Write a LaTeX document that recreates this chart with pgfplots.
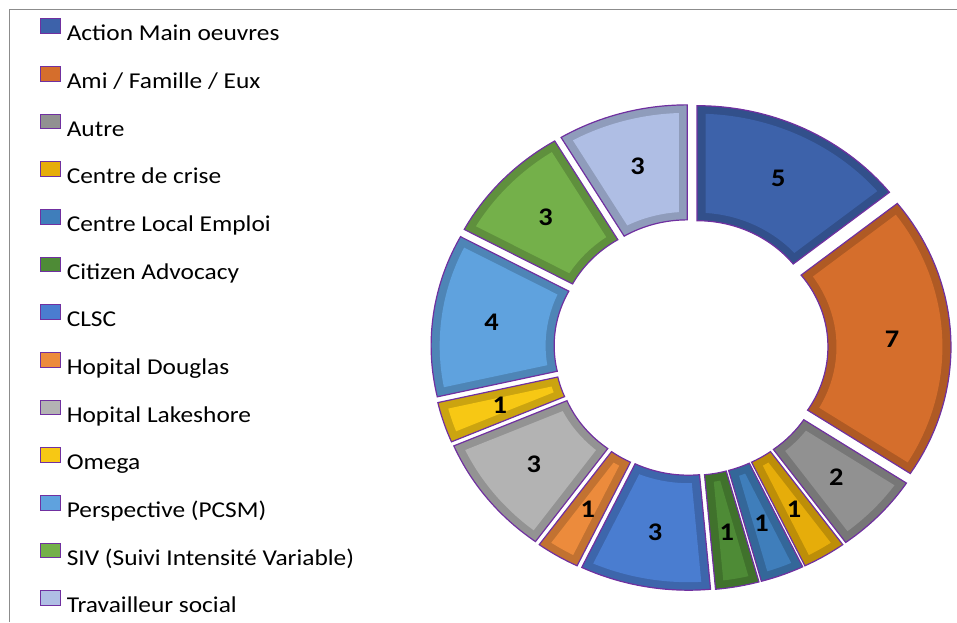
\documentclass[border=0pt]{standalone}
\usepackage{fontspec}
\usepackage{pgfplots}
\pgfplotsset{compat=1.18}
\setmainfont{Carlito}
\newfontfamily\calfont[FakeStretch=1.12]{Carlito}

\definecolor{outl}{HTML}{7030A0}
\definecolor{frame}{HTML}{8C8C8C}
\definecolor{cAction}{HTML}{3D62AA}
\definecolor{cAmi}{HTML}{D56E2C}
\definecolor{cAutre}{HTML}{919191}
\definecolor{cCrise}{HTML}{E6AD0A}
\definecolor{cCLE}{HTML}{3F7EBB}
\definecolor{cCitizen}{HTML}{4E8B36}
\definecolor{cCLSC}{HTML}{4A7DD0}
\definecolor{cDouglas}{HTML}{EC8B3C}
\definecolor{cLakeshore}{HTML}{B3B3B3}
\definecolor{cOmega}{HTML}{F7C814}
\definecolor{cPersp}{HTML}{5FA2DE}
\definecolor{cSIV}{HTML}{74B04A}
\definecolor{cTrav}{HTML}{AFBEE4}

% geometry in pixel units of the reference
\def\cx{691}\def\cy{274.6}\def\sx{1.07}
\def\Ro{230}\def\Ri{115}\def\Rm{175}\def\dd{13}\def\bw{8}
\def\N{36}
\def\total{35}
\gdef\cum{0}

\newcommand{\arcpts}[4]{% radius, start angle, end angle, mid angle
  \foreach \k in {0,...,\N} {%
    \pgfmathsetmacro\ang{(#2)+((#3)-(#2))*\k/\N}%
    \pgfmathsetmacro\px{\cx+\sx*((#1)*cos(\ang)+\dd*cos(#4))}%
    \pgfmathsetmacro\py{\cy+(#1)*sin(\ang)+\dd*sin(#4)}%
    \xdef\pts{\pts (\px,\py)}%
  }%
}

\newcommand{\sector}[3]{% value, colour, legend text
  \pgfmathsetmacro\sa{90-\cum*360/\total}%
  \pgfmathsetmacro\sb{90-(\cum+#1)*360/\total}%
  \pgfmathsetmacro\md{(\sa+\sb)/2}%
  \gdef\pts{}%
  \arcpts{\Ro}{\sa}{\sb}{\md}%
  \arcpts{\Ri}{\sb}{\sa}{\md}%
  \edef\doplot{\noexpand\addplot[forget plot, fill=#2!82!black, draw=outl, line width=0.9pt] coordinates {\pts} -- cycle;}%
  \doplot
  \pgfmathsetmacro\doo{\bw/(\Ro-\bw)*180/pi}%
  \pgfmathsetmacro\dii{\bw/(\Ri+\bw)*180/pi}%
  \gdef\pts{}%
  \arcpts{\Ro-\bw}{\sa-\doo}{\sb+\doo}{\md}%
  \arcpts{\Ri+\bw}{\sb+\dii}{\sa-\dii}{\md}%
  \edef\doplot{\noexpand\addplot[forget plot, fill=#2, draw=none] coordinates {\pts} -- cycle;}%
  \doplot
  \addlegendimage{legsq, fill=#2}%
  \addlegendentry{#3}%
  \pgfmathsetmacro\lx{\cx+\sx*(\Rm+\dd)*cos(\md)}%
  \pgfmathsetmacro\ly{\cy+(\Rm+\dd)*sin(\md)}%
  \edef\dolabel{\noexpand\node[font=\noexpand\calfont\noexpand\bfseries\noexpand\fontsize{19}{20}\noexpand\selectfont] at (axis cs:\lx,\ly) {#1};}%
  \dolabel
  \pgfmathsetmacro\newcum{\cum+#1}%
  \xdef\cum{\newcum}%
}

\pgfplotsset{legsq/.style={legend image code/.code={\draw[##1,draw=outl,line width=0.6pt] (0pt,0pt) rectangle (15pt,11pt);}}}

\begin{document}
\begin{tikzpicture}
\begin{axis}[
  at={(0,0)}, anchor=south west,
  scale only axis, width=717.75pt, height=466.5pt,
  xmin=0, xmax=957, ymin=0, ymax=622,
  hide axis, clip=false,
  legend style={at={(axis description cs:0.0418,0.9705)}, anchor=north west,
    draw=none, fill=none, inner sep=0pt, outer sep=0pt,
    font=\calfont\fontsize{17}{20}\selectfont,
    row sep=18.95pt, column sep=4.5pt,
    nodes={inner sep=0pt, text height=11pt, text depth=0pt}},
  legend cell align=left,
]
\draw[frame, line width=0.8pt] (axis cs:9.5,0) -- (axis cs:9.5,612.7) -- (axis cs:957,612.7);
\sector{5}{cAction}{Action Main oeuvres}
\sector{7}{cAmi}{Ami / Famille / Eux}
\sector{2}{cAutre}{Autre}
\sector{1}{cCrise}{Centre de crise}
\sector{1}{cCLE}{Centre Local Emploi}
\sector{1}{cCitizen}{Citizen Advocacy}
\sector{3}{cCLSC}{CLSC}
\sector{1}{cDouglas}{Hopital Douglas}
\sector{3}{cLakeshore}{Hopital Lakeshore}
\sector{1}{cOmega}{Omega}
\sector{4}{cPersp}{Perspective (PCSM)}
\sector{3}{cSIV}{SIV (Suivi Intensité Variable)}
\sector{3}{cTrav}{Travailleur social}
\end{axis}
\pgfresetboundingbox
\path (0,0) rectangle (717.75pt,466.5pt);
\end{tikzpicture}
\end{document}
